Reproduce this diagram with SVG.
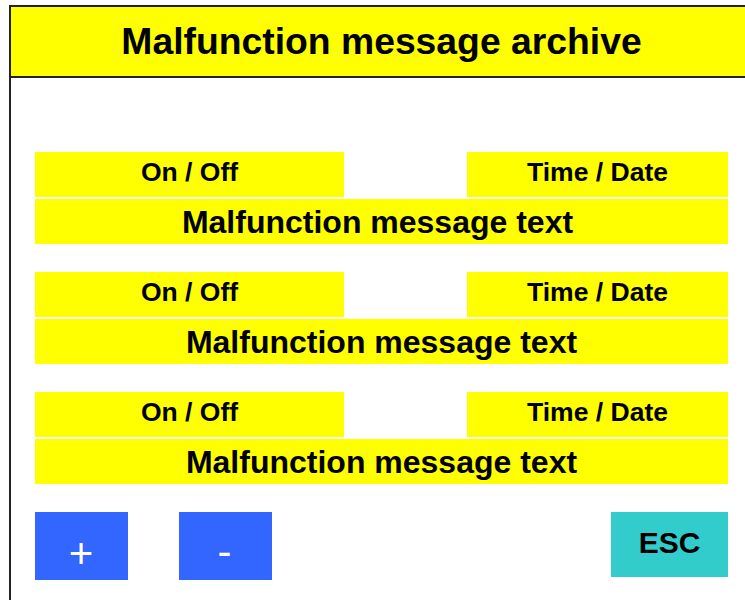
<svg xmlns="http://www.w3.org/2000/svg" width="745" height="600" viewBox="0 0 745 600">
  <style>
    .field { fill: #ffff00; }
    .lbl { font-family: "Liberation Sans", Arial, sans-serif; font-weight: bold; fill: #000; text-anchor: middle; }
    .small { font-size: 26.5px; }
    .msg { font-size: 32px; }
    .btn { fill: #3366ff; }
    .btn-txt { font-family: "Liberation Sans", Arial, sans-serif; fill: #fff; text-anchor: middle; font-size: 42px; }
  </style>
  <rect x="0" y="0" width="745" height="600" fill="#ffffff"/>

  <!-- screen frame -->
  <line x1="10" y1="77" x2="10" y2="600" stroke="#222" stroke-width="2"/>

  <!-- title bar -->
  <g id="title">
    <rect x="10" y="6" width="740" height="71" fill="#ffff00" stroke="#222" stroke-width="2"/>
    <text class="lbl" x="381.5" y="54" font-size="37.3">Malfunction message archive</text>
  </g>

  <!-- message entries -->
  <g id="entry1">
    <rect class="field" x="35" y="152" width="309" height="45"/>
    <text class="lbl small" x="189.5" y="181">On / Off</text>
    <rect class="field" x="467" y="152" width="261" height="45"/>
    <text class="lbl small" x="597.5" y="181">Time / Date</text>
    <rect class="field" x="35" y="199" width="693" height="45"/>
    <text class="lbl msg" x="377.5" y="233">Malfunction message text</text>
  </g>
  <g id="entry2">
    <rect class="field" x="35" y="272" width="309" height="45"/>
    <text class="lbl small" x="189.5" y="301">On / Off</text>
    <rect class="field" x="467" y="272" width="261" height="45"/>
    <text class="lbl small" x="597.5" y="301">Time / Date</text>
    <rect class="field" x="35" y="319" width="693" height="45"/>
    <text class="lbl msg" x="381.5" y="353">Malfunction message text</text>
  </g>
  <g id="entry3">
    <rect class="field" x="35" y="392" width="309" height="45"/>
    <text class="lbl small" x="189.5" y="421">On / Off</text>
    <rect class="field" x="467" y="392" width="261" height="45"/>
    <text class="lbl small" x="597.5" y="421">Time / Date</text>
    <rect class="field" x="35" y="439" width="693" height="45"/>
    <text class="lbl msg" x="381.5" y="473">Malfunction message text</text>
  </g>

  <!-- buttons -->
  <g id="btn-plus">
    <rect class="btn" x="35" y="512" width="93" height="68"/>
    <text class="btn-txt" x="81" y="568">+</text>
  </g>
  <g id="btn-minus">
    <rect class="btn" x="179" y="512" width="93" height="68"/>
    <text class="btn-txt" x="224.5" y="566">-</text>
  </g>
  <g id="btn-esc">
    <rect x="611" y="512" width="117" height="65" fill="#33cccc"/>
    <text class="lbl" x="669.5" y="553" font-size="30">ESC</text>
  </g>
</svg>
